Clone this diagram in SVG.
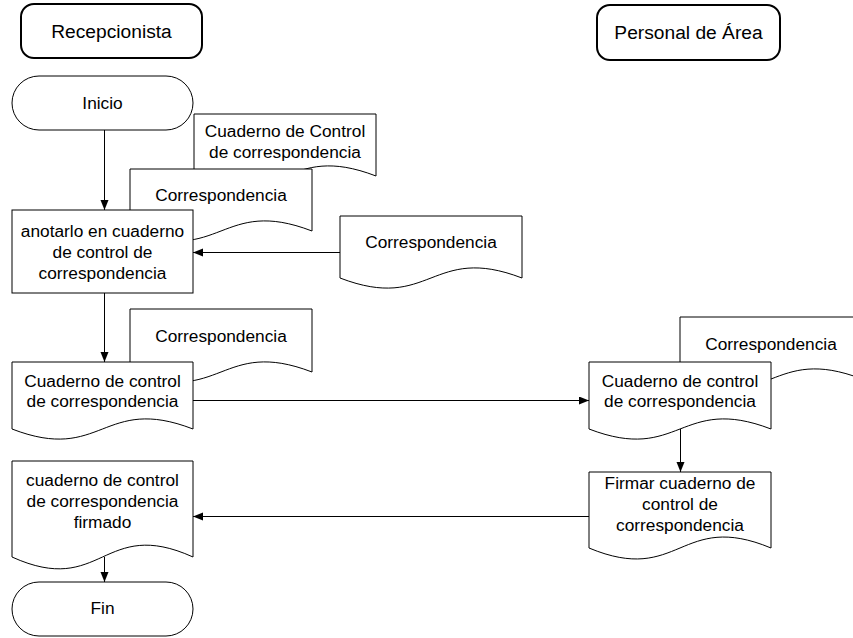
<svg xmlns="http://www.w3.org/2000/svg" width="853" height="638" viewBox="0 0 853 638">
  <style>
    .lane { fill: #fff; stroke: #000; stroke-width: 2; }
    .shape { fill: #fff; stroke: #000; stroke-width: 1; }
    .flow { fill: none; stroke: #000; stroke-width: 1; }
    text { font-family: "Liberation Sans", Arial, sans-serif; font-size: 17.3px; fill: #000; text-anchor: middle; }
    .head { font-size: 19.2px; }
  </style>
  <defs>
    <marker id="arrow" markerUnits="userSpaceOnUse" markerWidth="11" markerHeight="9" refX="10" refY="4" orient="auto">
      <path d="M0,0 L10,4 L0,8 Z" fill="#000"/>
    </marker>
  </defs>
  <rect width="853" height="638" fill="#fff"/>

  <!-- lane headers -->
  <g id="lane-recepcionista">
    <rect class="lane" x="21" y="4" width="181" height="54" rx="13"/>
    <text class="head" x="111.5" y="38">Recepcionista</text>
  </g>
  <g id="lane-personal">
    <rect class="lane" x="597" y="5" width="183" height="55" rx="13"/>
    <text class="head" x="688.5" y="39">Personal de Área</text>
  </g>

  <!-- receptionist column -->
  <g id="inicio">
    <rect class="shape" x="12" y="76" width="181" height="54" rx="27"/>
    <text x="102.5" y="109">Inicio</text>
  </g>
  <g id="doc-cuaderno-control">
    <path class="shape" d="M194,114 H376 V176 C285,141 285,211 194,176 Z"/>
    <text x="285" y="137">Cuaderno de Control</text>
    <text x="285" y="158">de correspondencia</text>
  </g>
  <g id="doc-correspondencia-1">
    <path class="shape" d="M130,169 H312 V231 C221,196 221,266 130,231 Z"/>
    <text x="221" y="201">Correspondencia</text>
  </g>
  <g id="anotar">
    <rect class="shape" x="12" y="210" width="181" height="83"/>
    <text x="102.5" y="236.5">anotarlo en cuaderno</text>
    <text x="102.5" y="257.5">de control de</text>
    <text x="102.5" y="278.5">correspondencia</text>
  </g>
  <g id="doc-correspondencia-entrada">
    <path class="shape" d="M340,216 H522 V278 C431,243 431,313 340,278 Z"/>
    <text x="431" y="248">Correspondencia</text>
  </g>
  <g id="doc-correspondencia-2">
    <path class="shape" d="M130,309 H312 V372 C221,337 221,407 130,372 Z"/>
    <text x="221" y="342">Correspondencia</text>
  </g>
  <g id="doc-cuaderno-envio">
    <path class="shape" d="M12,362 H193 V429 C102.5,394 102.5,464 12,429 Z"/>
    <text x="102.5" y="387">Cuaderno de control</text>
    <text x="102.5" y="407">de correspondencia</text>
  </g>
  <g id="doc-cuaderno-firmado">
    <path class="shape" d="M12,461 H193 V557 C102.5,516 102.5,598 12,557 Z"/>
    <text x="102.5" y="486">cuaderno de control</text>
    <text x="102.5" y="507">de correspondencia</text>
    <text x="102.5" y="528">firmado</text>
  </g>
  <g id="fin">
    <rect class="shape" x="12" y="582" width="181" height="54" rx="27"/>
    <text x="102.5" y="614">Fin</text>
  </g>

  <!-- area staff column -->
  <g id="doc-correspondencia-area">
    <path class="shape" d="M680,317 H862 V379 C771,344 771,414 680,379 Z"/>
    <text x="771" y="350">Correspondencia</text>
  </g>
  <g id="doc-cuaderno-recibido">
    <path class="shape" d="M589,362 H771 V429 C680,394 680,464 589,429 Z"/>
    <text x="680" y="387">Cuaderno de control</text>
    <text x="680" y="407">de correspondencia</text>
  </g>
  <g id="firmar">
    <path class="shape" d="M589,472 H771 V548 C680,510 680,586 589,548 Z"/>
    <text x="680" y="489">Firmar cuaderno de</text>
    <text x="680" y="510">control de</text>
    <text x="680" y="531">correspondencia</text>
  </g>

  <!-- connectors -->
  <g id="connectors">
    <path class="flow" d="M104.5,130 V210" marker-end="url(#arrow)"/>
    <path class="flow" d="M340,252.5 H193" marker-end="url(#arrow)"/>
    <path class="flow" d="M104.5,293 V362" marker-end="url(#arrow)"/>
    <path class="flow" d="M193,400.5 H589" marker-end="url(#arrow)"/>
    <path class="flow" d="M680.5,429 V472" marker-end="url(#arrow)"/>
    <path class="flow" d="M589,516.5 H193" marker-end="url(#arrow)"/>
    <path class="flow" d="M104.5,557 V582" marker-end="url(#arrow)"/>
  </g>
</svg>
